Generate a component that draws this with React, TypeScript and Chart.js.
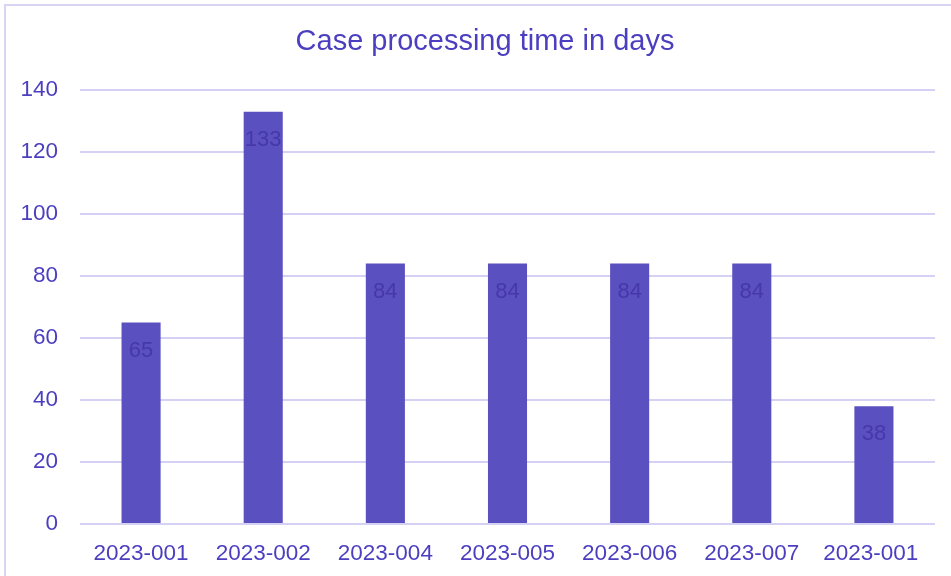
import React, { useEffect, useRef } from "react";
import { Chart, registerables } from "chart.js";

Chart.register(...registerables);

const categories = ["2023-001", "2023-002", "2023-004", "2023-005", "2023-006", "2023-007", "2023-001 "];
const processingDays = [65, 133, 84, 84, 84, 84, 38];
const titleText = "Case processing time in days";

const FONT = "'Liberation Sans', Arial, sans-serif";
const TEXT_COLOR = "#4b3fc0";
const BAR_COLOR = "#5b50bf";
const LABEL_COLOR = "#4737ac";
const GRID_COLOR = "#d5d1f4";
const FRAME_COLOR = "#d8d4f4";

const frameAndTitle = {
  id: "frameAndTitle",
  beforeDraw(chart: any) {
    const ctx = chart.ctx;
    ctx.save();
    ctx.fillStyle = "#ffffff";
    ctx.fillRect(0, 0, chart.width, chart.height);
    ctx.strokeStyle = FRAME_COLOR;
    ctx.lineWidth = 2;
    ctx.beginPath();
    ctx.moveTo(5, chart.height);
    ctx.lineTo(5, 5);
    ctx.lineTo(chart.width, 5);
    ctx.stroke();
    ctx.font = `29px ${FONT}`;
    ctx.fillStyle = TEXT_COLOR;
    ctx.textAlign = "center";
    ctx.textBaseline = "middle";
    ctx.fillText(titleText, 485, 42);
    ctx.restore();
  },
};

const valueLabels = {
  id: "valueLabels",
  afterDatasetsDraw(chart: any) {
    const ctx = chart.ctx;
    const meta = chart.getDatasetMeta(0);
    ctx.save();
    ctx.font = `22px ${FONT}`;
    ctx.fillStyle = LABEL_COLOR;
    ctx.textAlign = "center";
    ctx.textBaseline = "alphabetic";
    meta.data.forEach((el: any, i: number) => {
      ctx.fillText(String(chart.data.datasets[0].data[i]), el.x, el.y + 34);
    });
    ctx.restore();
  },
};

export default function App() {
  const canvasRef = useRef<HTMLCanvasElement>(null);

  useEffect(() => {
    if (!canvasRef.current) return;
    const chart = new Chart(canvasRef.current, {
      type: "bar",
      data: {
        labels: categories,
        datasets: [
          {
            data: processingDays,
            backgroundColor: BAR_COLOR,
            borderWidth: 0,
            barPercentage: 0.32,
            categoryPercentage: 1,
          },
        ],
      },
      options: {
        animation: false,
        responsive: false,
        maintainAspectRatio: false,
        layout: { padding: { left: 0, right: 16, top: 90, bottom: 0 } },
        plugins: {
          legend: { display: false },
          tooltip: { enabled: false },
          title: { display: false },
        },
        scales: {
          x: {
            grid: { display: false, drawTicks: false },
            border: { display: false },
            ticks: {
              color: TEXT_COLOR,
              font: { family: FONT, size: 22.5 },
              padding: 16,
              maxRotation: 0,
              autoSkip: false,
            },
            afterFit: (s: any) => {
              s.height = 52;
            },
          },
          y: {
            min: 0,
            max: 140,
            grid: { color: GRID_COLOR, lineWidth: 2, drawTicks: false },
            border: { display: false },
            ticks: {
              stepSize: 20,
              color: TEXT_COLOR,
              font: { family: FONT, size: 22.5 },
              padding: 22,
            },
            afterFit: (s: any) => {
              s.width = 80;
            },
          },
        },
      },
      plugins: [frameAndTitle, valueLabels],
    });
    return () => chart.destroy();
  }, []);

  return (
    <div style={{ position: "fixed", left: 0, top: 0, width: 951, height: 576, background: "#fff", overflow: "hidden" }}>
      <canvas ref={canvasRef} width={951} height={576} style={{ display: "block" }} />
    </div>
  );
}
